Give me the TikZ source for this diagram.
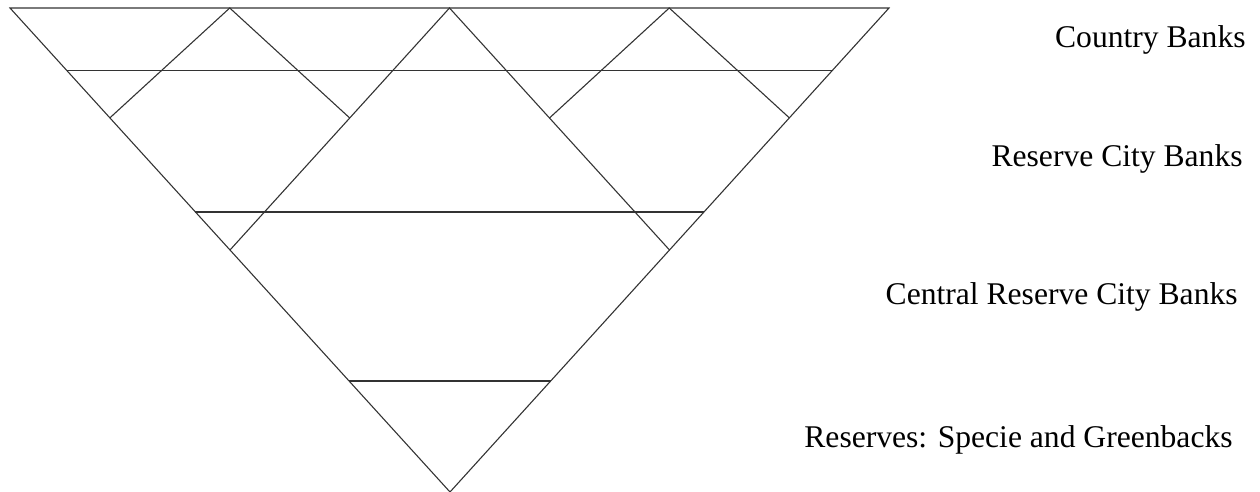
\documentclass[tikz,border=0pt]{standalone}
\usepackage{fontspec}
\setmainfont{Liberation Serif}
\usetikzlibrary{calc}

\begin{document}
\begin{tikzpicture}[
  x=0.5pt, y=-0.5pt,
  edge/.style={draw=black!80, line width=0.55pt},
  tier/.style={anchor=base east, inner sep=0pt, font=\fontsize{15.8}{19}\selectfont}
]
  \useasboundingbox (0,0) rectangle (1260,492);
  % outer triangle
  \coordinate (tl) at (10,8);
  \coordinate (tr) at (889,8);
  \coordinate (apex) at (450,492);
  \coordinate (tm) at ($(tl)!0.5!(tr)$);
  \coordinate (ml) at ($(tl)!0.5!(apex)$);
  \coordinate (mr) at ($(tr)!0.5!(apex)$);
  \draw[edge] (tl) -- (tr) -- (apex) -- cycle;
  % central triangle
  \draw[edge] (ml) -- (tm) -- (mr);
  % small triangles
  \coordinate (ltop) at ($(tl)!0.5!(tm)$);
  \coordinate (rtop) at ($(tm)!0.5!(tr)$);
  \draw[edge] ($(tl)!0.227!(apex)$) -- (ltop) -- ($(tm)!0.4545!(ml)$);
  \draw[edge] ($(tm)!0.4545!(mr)$) -- (rtop) -- ($(tr)!0.227!(apex)$);
  % tier lines
  \foreach \t in {0.130, 0.4215, 0.7707}
    \draw[edge] ($(tl)!\t!(apex)$) -- ($(tr)!\t!(apex)$);
  % labels
  \node[tier] (country) at (1246,48) {Country Banks};
  \node[tier] (reserve) at (1243,167) {Reserve City Banks};
  \node[tier] (central) at (1238,305) {Central Reserve City Banks};
  \node[tier] (specie) at (1233,447) {Reserves: Specie and Greenbacks};
\end{tikzpicture}
\end{document}
